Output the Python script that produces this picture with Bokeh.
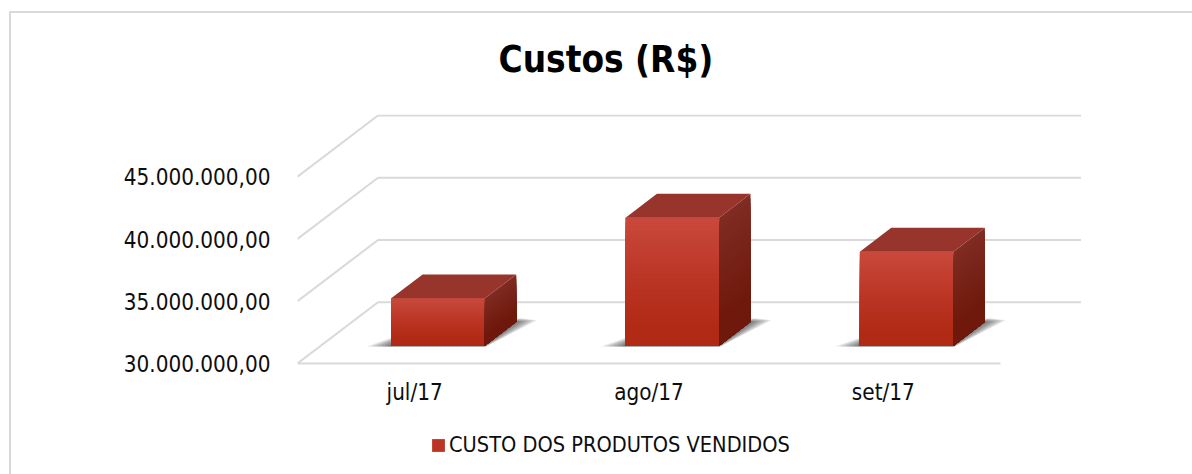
from bokeh.plotting import figure
from bokeh.embed import file_html
from bokeh.resources import INLINE
from bokeh.models import Range1d, FixedTicker, Legend, LegendItem, Title

title_text = "Custos (R$)"
categories = ["jul/17", "ago/17", "set/17"]
values = [33810000, 40280000, 37550000]
tick_values = [30000000, 35000000, 40000000, 45000000]
tick_labels = ["30.000.000,00", "35.000.000,00", "40.000.000,00", "45.000.000,00"]
series_name = "CUSTO DOS PRODUTOS VENDIDOS"

FONT = "DejaVu Sans Condensed"
FS = "22.3px"
DEPTH_X = 0.3435      # category units for full depth
DEPTH_V = 4920000     # value units for full depth
BAR_W = 0.3994
Z_F, Z_B = 0.29, 0.68
BASE = tick_values[0]
G = "#d9d9d9"

def mix(c1, c2, t):
    return "#%02x%02x%02x" % tuple(round(a + (b - a) * t) for a, b in zip(c1, c2))

def px(x, z):
    return x + z * DEPTH_X

def pv(v, z):
    return v + z * DEPTH_V

border_css = (f"linear-gradient({G},{G}) 9px 11px / 1183px 2px no-repeat, "
              f"linear-gradient({G},{G}) 9px 11px / 2px 463px no-repeat")

p = figure(width=1192, height=474, output_backend="svg", toolbar_location=None,
           x_range=Range1d(0, 3.35), y_range=Range1d(21887550, 50000000),
           min_border_left=297, min_border_right=110, min_border_top=114, min_border_bottom=10,
           styles={"background": border_css})
p.outline_line_color = None
p.grid.visible = False
p.background_fill_alpha = 0
p.border_fill_alpha = 0

ax = p.yaxis[0]
ax.ticker = FixedTicker(ticks=tick_values)
ax.major_label_overrides = dict(zip(tick_values, tick_labels))
ax.axis_line_color = None
ax.major_tick_line_color = None
ax.minor_tick_line_color = None
ax.major_tick_in = 0
ax.major_tick_out = 0
ax.major_label_standoff = 27
ax.major_label_text_font = FONT
ax.major_label_text_font_size = FS
ax.major_label_text_color = "#0d0d0d"

centers = [i + 0.5 for i in range(len(categories))]
bx = p.xaxis[0]
bx.fixed_location = BASE
bx.ticker = FixedTicker(ticks=centers)
bx.major_label_overrides = dict(zip(centers, categories))
bx.axis_line_color = None
bx.major_tick_line_color = None
bx.minor_tick_line_color = None
bx.major_tick_in = 0
bx.major_tick_out = 0
bx.major_label_standoff = 15
bx.major_label_text_font = FONT
bx.major_label_text_font_size = FS
bx.major_label_text_color = "#0d0d0d"

for t in tick_values:
    p.line([0, DEPTH_X], [t, pv(t, 1)], line_color=G, line_width=2)
    if t == BASE:
        p.line([0, 3], [t, t], line_color=G, line_width=2)
    p.line([DEPTH_X, 3 + DEPTH_X], [pv(t, 1), pv(t, 1)], line_color=G, line_width=2)

FRONT = [(200, 73, 60), (187, 52, 36), (176, 42, 20)]
SIDE = [(128, 44, 35), (111, 25, 12)]
N = 30
front_renderer = None
for c, v in zip(centers, values):
    L, R = c - BAR_W / 2, c + BAR_W / 2
    for g in (0.1, 0.085, 0.07, 0.055, 0.04, 0.028, 0.016, 0.008):
        zs = [Z_F - 0.012, Z_F - 0.012, Z_B + g * 0.25, Z_B + g * 0.6, Z_F + 0.12 + g * 1.2]
        xs = [px(L - g, zs[0]), px(R + g * 0.1, zs[1]), px(R + g * 0.8, zs[2]), px(R, zs[3]), px(L, zs[4])]
        p.patch(xs, [pv(BASE, z) for z in zs], fill_color="#303030", fill_alpha=0.12, line_color=None)
    r = p.quad(left=[px(L, Z_F)], right=[px(R, Z_F)], bottom=[pv(BASE, Z_F)], top=[pv(v, Z_F)],
               fill_color="#bb3424", line_color=None)
    if front_renderer is None:
        front_renderer = r
    # painter's order: every strip reaches down to the base, so no seams appear
    for i in range(N):
        t = (i + 0.5) / N
        col = mix(FRONT[0], FRONT[1], t / 0.5) if t < 0.5 else mix(FRONT[1], FRONT[2], min(1, (t - 0.5) / 0.35))
        top = v - (v - BASE) * i / N
        p.quad(left=[px(L, Z_F)], right=[px(R, Z_F)], bottom=[pv(BASE, Z_F)], top=[pv(top, Z_F)],
               fill_color=col, line_color=None)
    for i in range(N):
        t = (i + 0.5) / N
        col = mix(SIDE[0], SIDE[1], min(1, t / 0.8))
        top = v - (v - BASE) * i / N
        p.patch([px(R, Z_F), px(R, Z_B), px(R, Z_B), px(R, Z_F)],
                [pv(top, Z_F), pv(top, Z_B), pv(BASE, Z_B), pv(BASE, Z_F)],
                fill_color=col, line_color=None)
    p.patch([px(L, Z_F), px(L, Z_B), px(R, Z_B), px(R, Z_F)],
            [pv(v, Z_F), pv(v, Z_B), pv(v, Z_B), pv(v, Z_F)],
            fill_color="#97342b", line_color=None)

legend = Legend(items=[LegendItem(label=series_name, renderers=[front_renderer])],
                location=(133, 7), margin=0, padding=0, glyph_width=16, glyph_height=16,
                label_standoff=3, background_fill_alpha=0, border_line_color=None,
                label_text_font=FONT, label_text_font_size="21.6px", label_text_color="#0d0d0d",
                label_height=14, spacing=0)
p.add_layout(legend, "center")

p.add_layout(Title(text=title_text, align="left", offset=201, standoff=67,
                   text_font=FONT, text_font_style="bold", text_font_size="36.6px", text_color="black"), "above")

open("out.html", "w").write(file_html(p, INLINE))
